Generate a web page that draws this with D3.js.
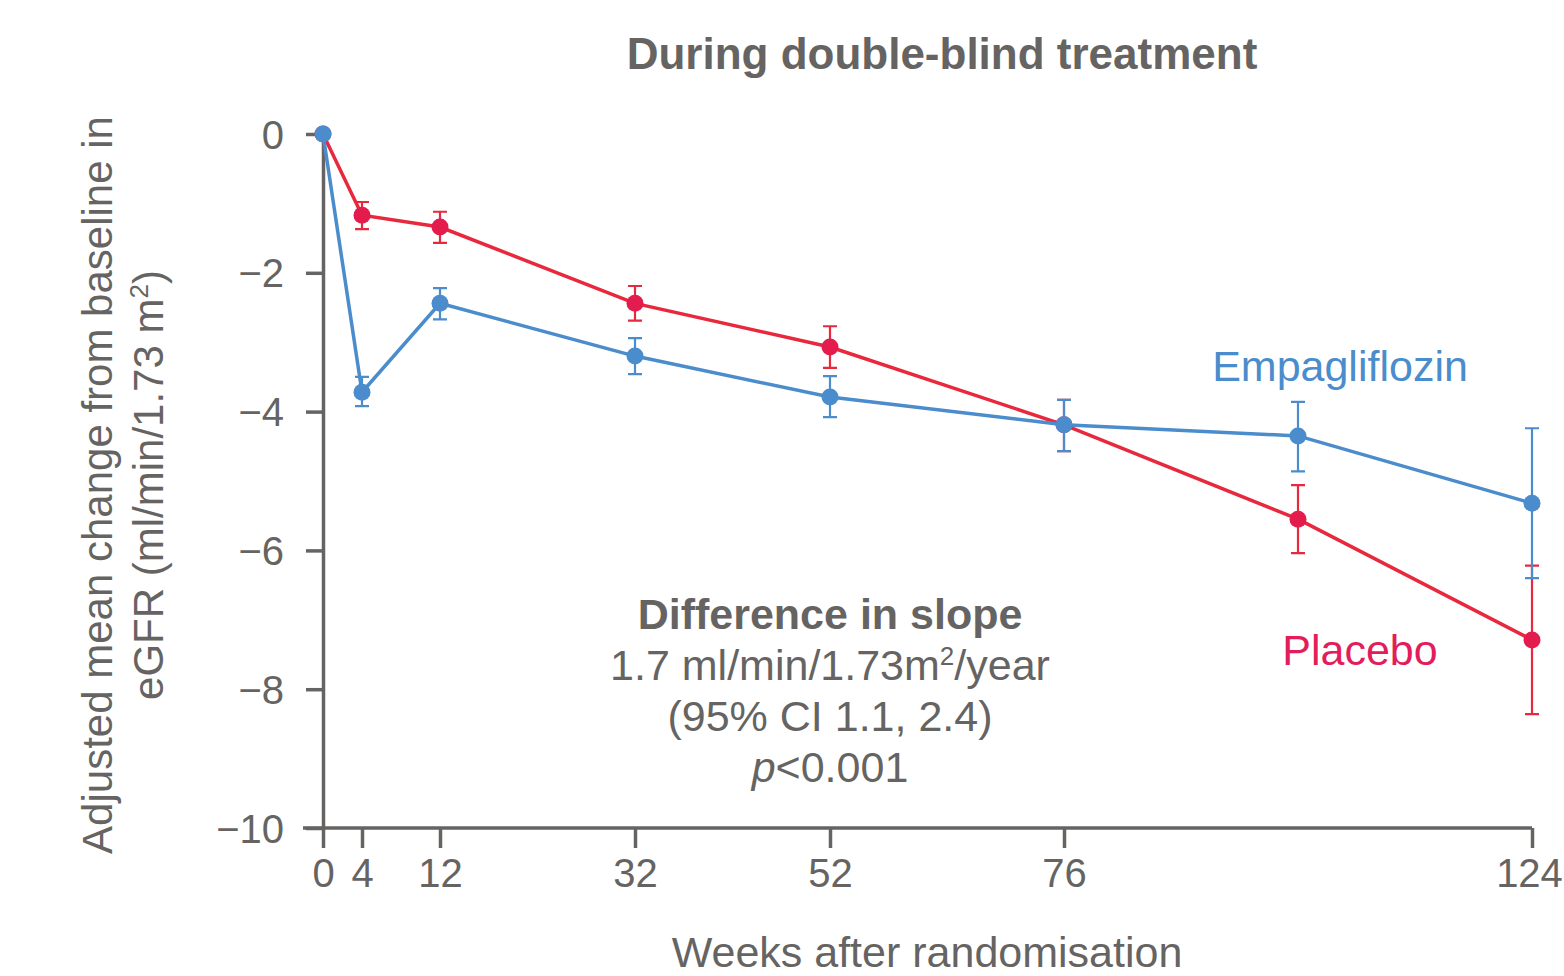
<!DOCTYPE html>
<html>
<head>
<meta charset="utf-8">
<script src="https://cdn.jsdelivr.net/npm/d3@7"></script>
<style>
  body { margin: 0; background: #fff; }
  svg { display: block; font-family: "Liberation Sans", Arial, sans-serif; }
</style>
</head>
<body>
<svg id="chart" width="1564" height="976"></svg>
<script>
// weeks after randomisation
var weeks = [0, 4, 12, 32, 52, 76, 100, 124];
var xTicks = [0, 4, 12, 32, 52, 76, 124];
var yTicks = [0, -2, -4, -6, -8, -10];

// adjusted mean change and 95% CI
var empaMean = [0, -3.72, -2.44, -3.20, -3.79, -4.19, -4.35, -5.32];
var empaLow  = [0, -3.92, -2.67, -3.46, -4.08, -4.57, -4.86, -6.40];
var empaHigh = [0, -3.50, -2.22, -2.94, -3.49, -3.83, -3.86, -4.24];

var placMean = [0, -1.17, -1.34, -2.44, -3.07, -4.19, -5.55, -7.29];
var placLow  = [0, -1.37, -1.57, -2.69, -3.37, -4.57, -6.04, -8.36];
var placHigh = [0, -0.98, -1.12, -2.19, -2.77, -3.83, -5.06, -6.22];

var grey = "#666462",
    blue = "#4a8ccc",
    red = "#e8283c",
    redDot = "#e31c4d";

var svg = d3.select("#chart");

var x = d3.scaleLinear().domain([0, 124]).range([323, 1532]);
var y = d3.scaleLinear().domain([-10, 0]).range([828, 134]);

// axes
var xAxis = svg.append("g")
    .attr("transform", "translate(0," + y(-10) + ")")
    .call(d3.axisBottom(x).tickValues(xTicks).tickSize(20).tickPadding(5).tickSizeOuter(0));
var yAxis = svg.append("g")
    .attr("transform", "translate(" + x(0) + ",0)")
    .call(d3.axisLeft(y).tickValues(yTicks).tickSize(17).tickPadding(22).tickSizeOuter(0)
        .tickFormat(function (d) { return d < 0 ? "\u2212" + Math.abs(d) : d; }));

[xAxis, yAxis].forEach(function (a) {
    a.select(".domain").attr("stroke", grey).attr("stroke-width", 3.5);
    a.selectAll(".tick line").attr("stroke", grey).attr("stroke-width", 3.5);
    a.selectAll(".tick text").attr("fill", grey).style("font-size", "40px").style("font-family", "'Liberation Sans', Arial, sans-serif");
});
// extend x axis line left of the y axis
xAxis.select(".domain").attr("d", "M" + (x(0) - 20) + ",0H" + x(124));
xAxis.selectAll(".tick text").attr("dy", "0.85em")
    .attr("dx", function (d) { return d === 124 ? -3 : 0; });
yAxis.selectAll(".tick text").attr("dy", "0.35em");

function drawSeries(mean, low, high, lineColor, dotColor) {
    var data = weeks.map(function (w, i) {
        return { w: w, m: mean[i], lo: low[i], hi: high[i] };
    });
    var g = svg.append("g");
    g.selectAll(".err").data(data.filter(function (d) { return d.lo !== d.hi; }))
        .enter().append("path")
        .attr("d", function (d) {
            var cx = x(d.w);
            return "M" + cx + "," + y(d.lo) + "V" + y(d.hi) +
                "M" + (cx - 7) + "," + y(d.lo) + "H" + (cx + 7) +
                "M" + (cx - 7) + "," + y(d.hi) + "H" + (cx + 7);
        })
        .attr("fill", "none")
        .attr("stroke", lineColor)
        .attr("stroke-width", 2.2);
    g.append("path").datum(data)
        .attr("d", d3.line().x(function (d) { return x(d.w); }).y(function (d) { return y(d.m); }))
        .attr("fill", "none")
        .attr("stroke", lineColor)
        .attr("stroke-width", 3.5);
    g.selectAll("circle").data(data).enter().append("circle")
        .attr("cx", function (d) { return x(d.w); })
        .attr("cy", function (d) { return y(d.m); })
        .attr("r", 8.5)
        .attr("fill", dotColor);
}

drawSeries(placMean, placLow, placHigh, red, redDot);
drawSeries(empaMean, empaLow, empaHigh, blue, blue);

// title
svg.append("text")
    .attr("x", 942).attr("y", 69)
    .attr("text-anchor", "middle")
    .attr("fill", grey)
    .style("font-size", "44px").style("font-weight", "bold")
    .text("During double-blind treatment");

// axis titles
svg.append("text")
    .attr("x", 927).attr("y", 967)
    .attr("text-anchor", "middle")
    .attr("fill", grey)
    .style("font-size", "43px")
    .text("Weeks after randomisation");

var yl = svg.append("text")
    .attr("transform", "translate(112,485) rotate(-90)")
    .attr("text-anchor", "middle")
    .attr("fill", grey)
    .style("font-size", "42px");
yl.append("tspan").attr("x", 0).attr("dy", 0).text("Adjusted mean change from baseline in");
yl.append("tspan").attr("x", 0).attr("dy", 51).text("eGFR (ml/min/1.73 m");
yl.append("tspan").attr("dy", -15).style("font-size", "26px").text("2");
yl.append("tspan").attr("dy", 15).text(")");

// series labels
svg.append("text").attr("x", 1340).attr("y", 381)
    .attr("text-anchor", "middle").attr("fill", blue)
    .style("font-size", "43px").text("Empagliflozin");
svg.append("text").attr("x", 1360).attr("y", 665)
    .attr("text-anchor", "middle").attr("fill", "#e31c5a")
    .style("font-size", "43px").text("Placebo");

// annotation
var ann = svg.append("g").attr("fill", grey).attr("text-anchor", "middle").style("font-size", "43px");
ann.append("text").attr("x", 830).attr("y", 629).style("font-weight", "bold").text("Difference in slope");
var t2 = ann.append("text").attr("x", 830).attr("y", 680);
t2.append("tspan").text("1.7 ml/min/1.73m");
t2.append("tspan").attr("dy", -15).style("font-size", "26px").text("2");
t2.append("tspan").attr("dy", 15).text("/year");
ann.append("text").attr("x", 830).attr("y", 731).text("(95% CI 1.1, 2.4)");
var t4 = ann.append("text").attr("x", 830).attr("y", 782);
t4.append("tspan").style("font-style", "italic").text("p");
t4.append("tspan").text("<0.001");
</script>
</body>
</html>
